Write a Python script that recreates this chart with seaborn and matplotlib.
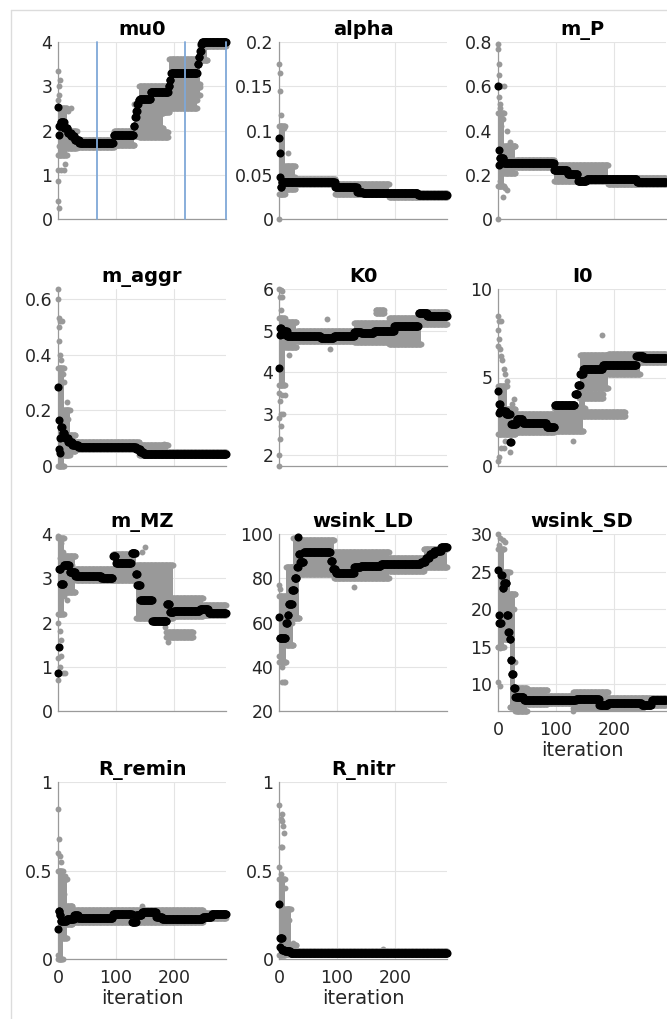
import numpy as np
import matplotlib
matplotlib.use("Agg")
import matplotlib.pyplot as plt
from matplotlib.lines import Line2D
from matplotlib.ticker import FuncFormatter
import seaborn as sns

# ---------------- data ----------------
ITER_MAX = 290
TITLES = ["mu0", "alpha", "m_P", "m_aggr", "K0", "I0", "m_MZ",
          "wsink_LD", "wsink_SD", "R_remin", "R_nitr"]
X_TICKS = [0, 100, 200]

# best-parameter trace: step changes (iteration, value)
MU0_BEST_X = [0, 1, 2, 5, 11, 17, 23, 29, 37, 96, 131, 133, 135, 137, 139, 141, 143, 160, 191, 193, 195, 241, 243, 245, 247, 249]
MU0_BEST_Y = [2.52, 1.9, 2.1, 2.2, 2.05, 1.95, 1.88, 1.78, 1.71, 1.9, 2.1, 2.3, 2.45, 2.6, 2.7, 2.72, 2.72, 2.86, 3.0, 3.15, 3.31, 3.5, 3.65, 3.8, 3.95, 4.0]
# population spread: (start, end, low, high)
MU0_BANDS = [(0, 15, 1.45, 2.5), (15, 32, 1.6, 2.0), (32, 97, 1.62, 1.78), (97, 132, 1.68, 1.98),
             (132, 147, 1.88, 2.6), (140, 190, 1.86, 1.96), (140, 182, 2.05, 2.4), (140, 192, 2.42, 3.0),
             (192, 240, 2.5, 2.7), (192, 245, 2.8, 2.98), (192, 245, 3.05, 3.62), (245, 258, 3.6, 3.9),
             (250, 290, 3.92, 4.02)]
MU0_PTS_X = [0, 3, 2, 1, 0, 0, 5, 10, 12, 0, 0, 2, 3, 2, 18, 22]
MU0_PTS_Y = [3.35, 3.15, 3.0, 2.8, 2.7, 1.1, 1.1, 1.1, 1.25, 0.85, 0.4, 0.25, 1.5, 1.65, 2.45, 2.5]
MU0_VLINES = [68, 219, 290]

ALPHA_BEST_X = [0, 1, 2, 3, 5, 97, 135, 145, 240]
ALPHA_BEST_Y = [0.092, 0.075, 0.047, 0.036, 0.042, 0.036, 0.031, 0.029, 0.027]
ALPHA_BANDS = [(0, 10, 0.028, 0.105), (10, 28, 0.034, 0.06), (28, 97, 0.039, 0.045),
               (97, 190, 0.028, 0.04), (190, 290, 0.025, 0.029)]
ALPHA_PTS_X = [0, 2, 1, 3, 0, 6, 9, 15, 22, 27, 3, 5]
ALPHA_PTS_Y = [0.175, 0.165, 0.145, 0.118, 0.0, 0.103, 0.103, 0.075, 0.05, 0.048, 0.035, 0.028]

MP_BEST_X = [0, 1, 2, 3, 10, 97, 120, 138, 153, 240]
MP_BEST_Y = [0.6, 0.31, 0.245, 0.275, 0.255, 0.22, 0.205, 0.17, 0.18, 0.167]
MP_BANDS = [(0, 10, 0.15, 0.48), (10, 30, 0.21, 0.33), (30, 97, 0.235, 0.265),
            (97, 190, 0.17, 0.245), (190, 290, 0.158, 0.185)]
MP_PTS_X = [0, 0, 1, 2, 10, 6, 2, 3, 4, 8, 5, 15, 20, 15, 8, 0, 3, 12, 28]
MP_PTS_Y = [0.79, 0.77, 0.7, 0.65, 0.6, 0.6, 0.55, 0.52, 0.5, 0.45, 0.42, 0.4, 0.35, 0.13, 0.1, 0.0, 0.17, 0.14, 0.33]

MAGGR_BEST_X = [0, 1, 2, 3, 4, 5, 8, 12, 18, 25, 35, 135, 142, 148]
MAGGR_BEST_Y = [0.285, 0.165, 0.06, 0.045, 0.1, 0.14, 0.12, 0.1, 0.085, 0.075, 0.068, 0.06, 0.05, 0.043]
MAGGR_BANDS = [(0, 10, 0.0, 0.35), (10, 20, 0.04, 0.2), (20, 30, 0.055, 0.11),
               (30, 140, 0.06, 0.087), (140, 190, 0.04, 0.075), (190, 290, 0.038, 0.05)]
MAGGR_PTS_X = [0, 0, 2, 4, 7, 1, 2, 4, 6, 8, 10, 15, 18, 183]
MAGGR_PTS_Y = [0.635, 0.6, 0.53, 0.52, 0.52, 0.5, 0.45, 0.4, 0.38, 0.33, 0.3, 0.23, 0.17, 0.08]

K0_BEST_X = [0, 1, 2, 4, 8, 14, 72, 95, 130, 142, 164, 199, 241, 256]
K0_BEST_Y = [4.1, 4.9, 5.05, 4.92, 5.0, 4.88, 4.83, 4.88, 4.97, 4.95, 4.99, 5.1, 5.43, 5.35]
K0_BANDS = [(0, 10, 3.7, 5.3), (10, 30, 4.6, 5.2), (30, 130, 4.75, 5.0), (130, 190, 4.72, 5.18),
            (167, 181, 5.42, 5.5), (190, 245, 4.68, 5.3), (245, 290, 5.15, 5.45)]
K0_PTS_X = [0, 3, 5, 2, 6, 3, 0, 2, 5, 10, 0, 3, 7, 4, 2, 0, 0, 18, 82, 88]
K0_PTS_Y = [6.0, 5.97, 5.95, 5.8, 5.8, 5.5, 3.5, 3.3, 3.45, 3.45, 2.9, 3.0, 3.0, 2.7, 2.4, 2.0, 1.75, 4.4, 5.28, 4.55]

I0_BEST_X = [0, 1, 2, 4, 14, 21, 23, 32, 43, 84, 98, 133, 138, 142, 147, 181, 239, 251]
I0_BEST_Y = [4.25, 2.98, 3.5, 3.1, 2.94, 1.37, 2.37, 2.66, 2.43, 2.18, 3.47, 4.05, 4.6, 5.2, 5.5, 5.73, 6.2, 6.1]
I0_BANDS = [(0, 15, 1.8, 4.5), (15, 30, 1.8, 3.2), (30, 97, 1.9, 2.95), (97, 147, 1.95, 3.3),
            (140, 219, 2.85, 3.05), (140, 181, 3.85, 4.05), (140, 150, 3.3, 4.4),
            (142, 190, 4.4, 6.25), (190, 245, 5.2, 6.3), (245, 290, 5.9, 6.3)]
I0_PTS_X = [0, 2, 5, 0, 2, 0, 3, 5, 7, 10, 12, 15, 0, 2, 5, 10, 12, 20, 27, 25, 130, 180, 12]
I0_PTS_Y = [8.5, 8.2, 8.2, 7.7, 7.2, 6.8, 6.6, 6.2, 6.0, 5.5, 5.2, 4.8, 0.3, 0.5, 1.0, 1.0, 1.4, 0.8, 3.8, 3.5, 1.4, 7.4, 1.9]

MMZ_BEST_X = [0, 1, 2, 5, 10, 20, 30, 75, 95, 100, 127, 134, 137, 142, 163, 188, 193, 200, 245, 260]
MMZ_BEST_Y = [0.85, 1.45, 3.2, 2.88, 3.3, 3.15, 3.05, 3.0, 3.5, 3.35, 3.58, 3.1, 2.85, 2.5, 2.04, 2.42, 2.24, 2.25, 2.3, 2.22]
MMZ_BANDS = [(0, 10, 2.2, 3.9), (10, 30, 2.7, 3.5), (30, 95, 2.95, 3.2), (95, 135, 2.95, 3.55),
             (135, 198, 2.1, 3.3), (187, 233, 1.68, 1.78), (198, 250, 2.15, 2.55), (250, 290, 2.18, 2.4)]
MMZ_PTS_X = [0, 2, 5, 8, 3, 12, 18, 25, 0, 3, 5, 0, 5, 8, 12, 0, 3, 10, 15, 145, 150, 190, 185]
MMZ_PTS_Y = [3.95, 3.9, 3.8, 3.6, 3.45, 3.45, 3.35, 3.3, 2.0, 1.8, 1.6, 1.2, 1.25, 0.85, 0.85, 0.7, 1.0, 2.6, 2.5, 3.6, 3.7, 1.55, 1.9]

WLD_BEST_X = [0, 1, 12, 15, 17, 23, 27, 31, 33, 34, 37, 43, 89, 93, 98, 130, 141, 176, 245, 253, 260, 268, 280]
WLD_BEST_Y = [62.6, 52.8, 59.6, 63.4, 68.2, 74.7, 80, 85, 98.8, 91, 87.5, 91.7, 88, 84, 82.5, 85, 85.5, 86.4, 87.5, 89, 91, 92.5, 94]
WLD_BANDS = [(0, 12, 42, 72), (12, 25, 50, 85), (25, 35, 62, 98), (35, 95, 82, 97.5),
             (95, 190, 80, 92), (190, 250, 83.5, 89), (250, 290, 85, 93)]
WLD_PTS_X = [0, 2, 5, 8, 5, 10, 0, 3, 15, 20, 22, 18, 130, 180, 20]
WLD_PTS_Y = [77, 75, 40, 33, 33, 33, 45, 43, 72, 65, 60, 58, 76, 80, 85]

WSD_BEST_X = [0, 1, 2, 6, 8, 10, 15, 18, 20, 22, 24, 27, 30, 45, 135, 175, 190, 248, 265]
WSD_BEST_Y = [25.2, 19.2, 18.1, 24.6, 22.8, 23.5, 19.2, 17.0, 16.0, 13.2, 11.3, 9.5, 8.3, 7.9, 8.0, 7.3, 7.5, 7.2, 7.9]
WSD_BANDS = [(0, 10, 15, 28), (10, 20, 16, 25), (20, 30, 7, 22), (30, 50, 6.5, 9.5), (50, 85, 7.4, 9.2),
             (85, 130, 7.5, 8.5), (130, 190, 6.8, 9.0), (190, 250, 6.8, 8.2), (250, 290, 7.3, 8.2)]
WSD_PTS_X = [0, 3, 8, 12, 2, 0, 3, 0, 3, 5, 25, 28, 30, 33, 130]
WSD_PTS_Y = [30, 29.5, 29.2, 29, 28.5, 10.3, 9.8, 15, 14.8, 16, 22, 20, 13, 6.6, 6.5]

RREM_BEST_X = [0, 1, 3, 5, 15, 28, 35, 95, 128, 135, 145, 170, 180, 250, 265]
RREM_BEST_Y = [0.17, 0.27, 0.25, 0.215, 0.225, 0.25, 0.232, 0.255, 0.21, 0.25, 0.265, 0.24, 0.228, 0.24, 0.252]
RREM_BANDS = [(0, 8, 0.0, 0.5), (8, 15, 0.12, 0.45), (15, 25, 0.2, 0.3), (25, 250, 0.21, 0.275), (250, 290, 0.23, 0.26)]
RREM_PTS_X = [0, 2, 0, 3, 5, 8, 12, 0, 145, 10]
RREM_PTS_Y = [0.85, 0.68, 0.6, 0.58, 0.55, 0.47, 0.47, 0.02, 0.3, 0.37]

RNIT_BEST_X = [0, 1, 2, 6, 10, 20]
RNIT_BEST_Y = [0.31, 0.065, 0.12, 0.05, 0.045, 0.035]
RNIT_BANDS = [(0, 10, 0.02, 0.45), (10, 20, 0.03, 0.28), (20, 30, 0.03, 0.08), (30, 290, 0.03, 0.045)]
RNIT_PTS_X = [0, 5, 3, 6, 7, 9, 3, 6, 0, 3, 10, 15, 18, 25, 180]
RNIT_PTS_Y = [0.87, 0.82, 0.79, 0.78, 0.75, 0.71, 0.63, 0.63, 0.52, 0.48, 0.4, 0.28, 0.22, 0.09, 0.055]

Y_LIMS = [(0, 4), (0, 0.2), (0, 0.8), (0, 0.635), (1.74, 6), (0, 10), (0, 4), (20, 100), (6.44, 30), (0, 1), (0, 1)]
Y_TICKS = [[0, 1, 2, 3, 4], [0, 0.05, 0.1, 0.15, 0.2], [0, 0.2, 0.4, 0.6, 0.8], [0, 0.2, 0.4, 0.6],
           [2, 3, 4, 5, 6], [0, 5, 10], [0, 1, 2, 3, 4], [20, 40, 60, 80, 100],
           [10, 15, 20, 25, 30], [0, 0.5, 1], [0, 0.5, 1]]

PANELS = [
    (MU0_BEST_X, MU0_BEST_Y, MU0_BANDS, MU0_PTS_X, MU0_PTS_Y),
    (ALPHA_BEST_X, ALPHA_BEST_Y, ALPHA_BANDS, ALPHA_PTS_X, ALPHA_PTS_Y),
    (MP_BEST_X, MP_BEST_Y, MP_BANDS, MP_PTS_X, MP_PTS_Y),
    (MAGGR_BEST_X, MAGGR_BEST_Y, MAGGR_BANDS, MAGGR_PTS_X, MAGGR_PTS_Y),
    (K0_BEST_X, K0_BEST_Y, K0_BANDS, K0_PTS_X, K0_PTS_Y),
    (I0_BEST_X, I0_BEST_Y, I0_BANDS, I0_PTS_X, I0_PTS_Y),
    (MMZ_BEST_X, MMZ_BEST_Y, MMZ_BANDS, MMZ_PTS_X, MMZ_PTS_Y),
    (WLD_BEST_X, WLD_BEST_Y, WLD_BANDS, WLD_PTS_X, WLD_PTS_Y),
    (WSD_BEST_X, WSD_BEST_Y, WSD_BANDS, WSD_PTS_X, WSD_PTS_Y),
    (RREM_BEST_X, RREM_BEST_Y, RREM_BANDS, RREM_PTS_X, RREM_PTS_Y),
    (RNIT_BEST_X, RNIT_BEST_Y, RNIT_BANDS, RNIT_PTS_X, RNIT_PTS_Y),
]
XLABEL_PANELS = [8, 9, 10]

# ---------------- style ----------------
sns.set_theme(style="white")
plt.rcParams["font.family"] = ["DejaVu Sans"]

GRAY = "#999999"
BLACK = "#000000"
SPINE = "#9a9a9a"
GRID = "#e4e4e4"
TXT = "#262626"
BLUE = "#7fa8d8"

W, H = 667, 1019
fig = plt.figure(figsize=(W / 100, H / 100), dpi=100)
fig.patch.set_facecolor("white")

COL_LEFT = [58, 279, 498]
ROW_TOP = [42, 289, 534, 782]
AX_W, AX_H = 168, 177

iters = np.arange(0, ITER_MAX + 1)


def step_eval(xs, ys, t):
    idx = np.searchsorted(np.asarray(xs), t, side="right") - 1
    return np.asarray(ys, dtype=float)[idx]


fmt = FuncFormatter(lambda v, p: f"{v:g}")

for i, (bx, by, bands, px, py) in enumerate(PANELS):
    r, c = divmod(i, 3)
    left = COL_LEFT[c] / W
    bottom = 1 - (ROW_TOP[r] + AX_H) / H
    ax = fig.add_axes([left, bottom, AX_W / W, AX_H / H])
    ax.set_facecolor("white")

    # population bands
    for (s, e, lo, hi) in bands:
        ax.fill_between([s, e], [lo, lo], [hi, hi], color=GRAY, linewidth=0, zorder=2)
        seg = np.arange(s, e + 1)
        sns.scatterplot(x=np.concatenate([seg, seg]),
                        y=np.concatenate([np.full(seg.size, lo), np.full(seg.size, hi)]),
                        ax=ax, color=GRAY, s=18, linewidth=0, zorder=2.2, clip_on=False)
    # individual population points
    sns.scatterplot(x=px, y=py, ax=ax, color=GRAY, s=18, linewidth=0, zorder=2.4, clip_on=False)
    # best trace
    best = step_eval(bx, by, iters)
    sns.scatterplot(x=iters, y=best, ax=ax, color=BLACK, s=34, linewidth=0, zorder=3, clip_on=False)

    if i == 0:
        for xv in MU0_VLINES:
            ax.axvline(xv, color=BLUE, lw=1.3, zorder=4, clip_on=False)

    ax.set_xlim(0, ITER_MAX)
    ax.set_ylim(*Y_LIMS[i])
    ax.set_xticks(X_TICKS)
    ax.set_yticks(Y_TICKS[i])
    ax.yaxis.set_major_formatter(fmt)
    ax.grid(True, color=GRID, lw=0.8, zorder=0)
    ax.set_axisbelow(True)
    for side in ["top", "right"]:
        ax.spines[side].set_visible(False)
    for side in ["left", "bottom"]:
        ax.spines[side].set_color(SPINE)
        ax.spines[side].set_linewidth(0.9)
        ax.spines[side].set_zorder(1)
    ax.tick_params(axis="both", direction="in", length=3, width=0.8, color=SPINE,
                   labelsize=12.5, labelcolor=TXT)
    ax.tick_params(axis="y", pad=4)
    ax.tick_params(axis="x", pad=7)
    if i not in XLABEL_PANELS:
        ax.set_xticklabels([])
    ax.set_xlabel("iteration" if i in XLABEL_PANELS else "", fontsize=14, color=TXT, labelpad=2)
    ax.set_ylabel("")
    ax.set_title(TITLES[i], fontsize=14, fontweight="bold", color=BLACK, pad=5)
    if ax.get_legend() is not None:
        ax.get_legend().remove()

# light frame lines (left and top) as in the reference screenshot
fig.add_artist(Line2D([11 / W, 11 / W], [0, 1 - 10 / H], color="#dcdcdc", lw=1.0))
fig.add_artist(Line2D([11 / W, 1], [1 - 10 / H, 1 - 10 / H], color="#dcdcdc", lw=1.0))

fig.savefig("out.png", dpi=100, facecolor="white")
